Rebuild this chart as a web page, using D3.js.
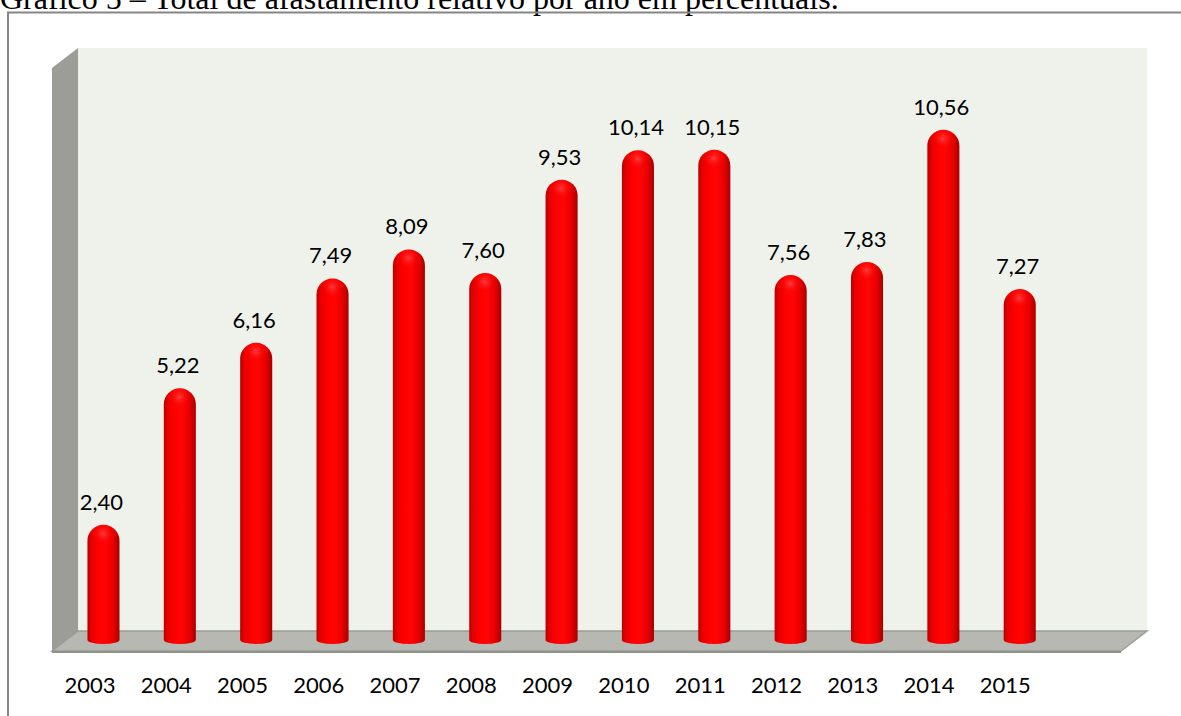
<!DOCTYPE html>
<html>
<head>
<meta charset="utf-8">
<script src="https://cdn.jsdelivr.net/npm/d3@7"></script>
<style>
  html, body { margin: 0; padding: 0; background: #ffffff; }
  svg { display: block; }
</style>
</head>
<body>
<svg id="chart" width="1181" height="716"></svg>
<script>
const titleText = "Gráfico 5 – Total de afastamento relativo por ano em percentuais.";
const years = ["2003","2004","2005","2006","2007","2008","2009","2010","2011","2012","2013","2014","2015"];
const values = [2.40, 5.22, 6.16, 7.49, 8.09, 7.60, 9.53, 10.14, 10.15, 7.56, 7.83, 10.56, 7.27];
const valueLabels = ["2,40","5,22","6,16","7,49","8,09","7,60","9,53","10,14","10,15","7,56","7,83","10,56","7,27"];

const svg = d3.select("#chart");
const defs = svg.append("defs");

// Geometry of the 3D box
const wallLeft = 78, wallRight = 1147, wallTop = 48, floorBack = 631, floorFront = 651, depthX = 26;

const x = d3.scaleBand().domain(years).range([65.3, 1057.9]).paddingInner(0.58).paddingOuter(0.29);
const y = d3.scaleLinear().domain([0, 12.25]).range([641, 48]);

// Title (clipped at top as in reference)
svg.append("text")
  .attr("x", 0).attr("y", 9)
  .attr("font-family", "Liberation Serif, Times New Roman, serif")
  .attr("font-size", 32)
  .attr("fill", "#000")
  .text(titleText);

// Outer frame
svg.append("path")
  .attr("d", "M8,716 L8,12.5 L1181,12.5")
  .attr("fill", "none").attr("stroke", "#858585").attr("stroke-width", 2);

// Back wall
svg.append("rect")
  .attr("x", wallLeft).attr("y", wallTop)
  .attr("width", wallRight - wallLeft).attr("height", floorBack - wallTop)
  .attr("fill", "#eff1eb");

// Side wall
svg.append("path")
  .attr("d", `M${wallLeft - depthX},${wallTop + 20} L${wallLeft},${wallTop} L${wallLeft},${floorBack} L${wallLeft - depthX},${floorFront} Z`)
  .attr("fill", "#9b9d96");

// Floor
svg.append("path")
  .attr("d", `M${wallLeft - depthX},${floorFront} L${wallLeft},${floorBack} L${wallRight},${floorBack} L${wallRight - depthX},${floorFront} Z`)
  .attr("fill", "#b6b8b1").attr("stroke", "#9a9c96").attr("stroke-width", 1.5);
svg.append("line")
  .attr("x1", wallLeft - depthX).attr("x2", wallRight - depthX)
  .attr("y1", floorFront + 1).attr("y2", floorFront + 1)
  .attr("stroke", "#8f918b").attr("stroke-width", 2);

// Gradients for cylinders
const lg = defs.append("linearGradient").attr("id", "cyl").attr("x1", "0%").attr("x2", "100%");
[["0%", "#b80000"], ["12%", "#e60000"], ["35%", "#ff0000"], ["55%", "#ff0505"], ["80%", "#e80000"], ["100%", "#a80000"]]
  .forEach(([o, c]) => lg.append("stop").attr("offset", o).attr("stop-color", c));
const rg = defs.append("radialGradient").attr("id", "dome")
  .attr("cx", "48%").attr("cy", "30%").attr("r", "60%");
[["0%", "#ff4a4a", 0.8], ["60%", "#ff0000", 0], ["100%", "#ff0000", 0]]
  .forEach(([o, c, op]) => rg.append("stop").attr("offset", o).attr("stop-color", c).attr("stop-opacity", op));

const bw = x.bandwidth();
const r = bw / 2;
const base = y(0) - 1;
const ery = 4;

const bars = svg.append("g").selectAll("g").data(years).join("g");
bars.append("path")
  .attr("d", (d, i) => {
    const x0 = x(d), x1 = x(d) + bw, top = y(values[i]);
    return `M${x0},${base} L${x0},${top + r} A${r},${r} 0 0 1 ${x1},${top + r} L${x1},${base} A${r},${ery} 0 0 1 ${x0},${base} Z`;
  })
  .attr("fill", "url(#cyl)");
bars.append("ellipse")
  .attr("cx", d => x(d) + r)
  .attr("cy", (d, i) => y(values[i]) + r * 0.9)
  .attr("rx", r * 0.9).attr("ry", r * 0.9)
  .attr("fill", "url(#dome)");

// Value labels
svg.append("g").selectAll("text").data(years).join("text")
  .attr("x", d => x(d) + r - 2)
  .attr("y", (d, i) => y(values[i]) - 15)
  .attr("text-anchor", "middle")
  .attr("font-family", "Lato, Open Sans, sans-serif")
  .attr("font-size", 22)
  .attr("fill", "#000")
  .text((d, i) => valueLabels[i]);

// Category axis labels (front of floor)
const xAxis = d3.axisBottom(d3.scalePoint().domain(years)
  .range([x(years[0]) + r - 14, x(years[years.length - 1]) + r - 15]))
  .tickSize(0).tickPadding(0);
const ax = svg.append("g").attr("transform", "translate(0,677)").call(xAxis);
ax.select(".domain").remove();
ax.selectAll("text")
  .attr("font-family", "Lato, Open Sans, sans-serif")
  .attr("font-size", 22)
  .attr("fill", "#000")
  .attr("dy", "0.71em");
</script>
</body>
</html>
